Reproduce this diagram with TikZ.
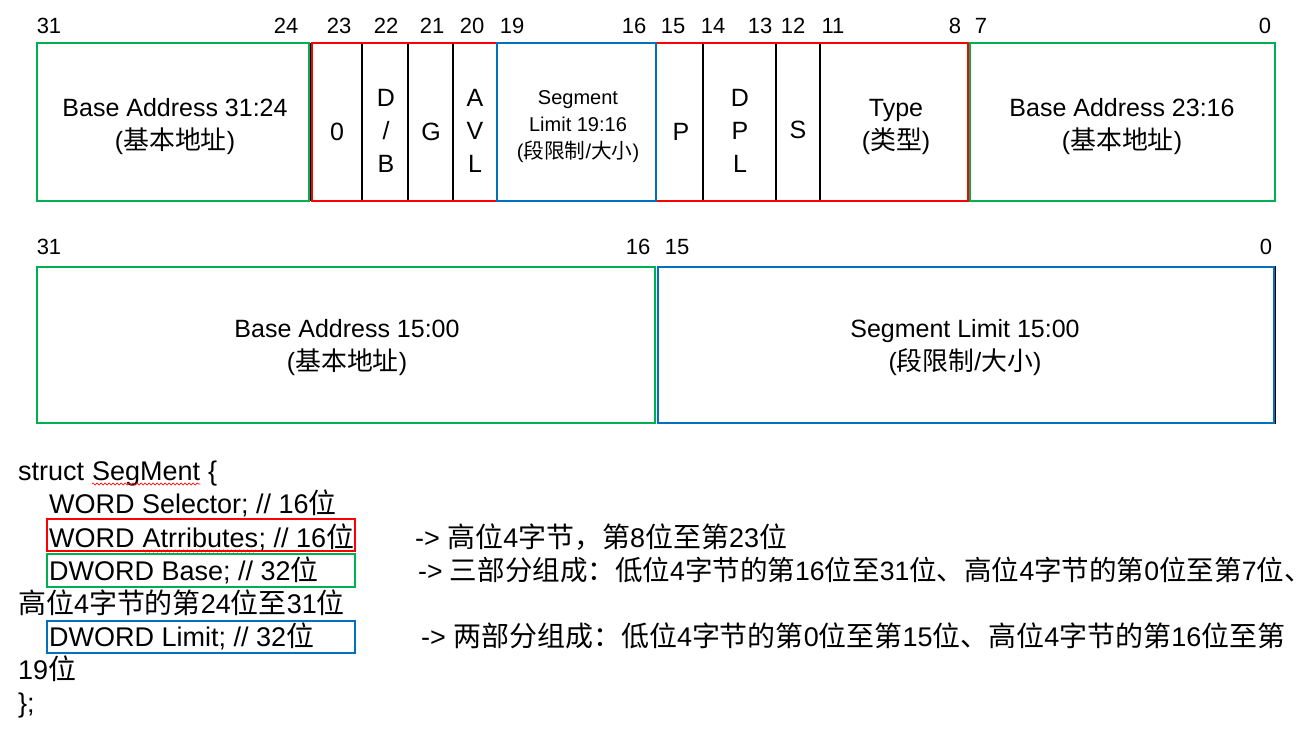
\documentclass[tikz,border=0pt]{standalone}
\usepackage{fontspec}
\setmainfont{Liberation Sans}
\newfontfamily\cjk[Scale=1.035]{Noto Sans CJK SC}
\newcommand\zh[1]{{\cjk #1}}
\usetikzlibrary{decorations.pathmorphing}
\definecolor{cgreen}{HTML}{00B050}
\definecolor{cred}{HTML}{FF0000}
\definecolor{cblue}{HTML}{0070C0}
\begin{document}
\begin{tikzpicture}[x=1pt,y=-1pt,
  greenbox/.style={draw=cgreen, line width=2pt},
  redbox/.style={draw=cred, line width=2pt},
  bluebox/.style={draw=cblue, line width=2pt},
  kline/.style={draw=black, line width=1.6pt},
  bitnum/.style={font=\fontsize{22}{26}\selectfont, anchor=base, inner sep=0pt},
  fld/.style={font=\fontsize{25}{33}\selectfont, align=center, inner sep=0pt},
  fldsmall/.style={font=\fontsize{20}{27}\selectfont, align=center, inner sep=0pt},
  code/.style={font=\fontsize{27}{33}\selectfont, anchor=base west, inner sep=0pt},
  squig/.style={draw=cred, line width=0.6pt, decorate, decoration={snake, amplitude=1.1pt, segment length=4pt}}]
\fill[white] (0,0) rectangle (1316,728);
\useasboundingbox (0,0) rectangle (1316,728);

% ---- top row: cells
\foreach \xx in {310.5,362,408,453,703,776,820,969}
  \draw[kline] (\xx,43) -- (\xx,201);
\draw[greenbox] (37,43) rectangle (309,201);
\draw[redbox] (312,43) rectangle (968,201);
\draw[bluebox] (497,43) rectangle (656,201);
\draw[greenbox] (970,43) rectangle (1275,201);

% ---- top row: bit numbers
\node[bitnum] (t31) at (49,33) {31};
\node[bitnum] (t24) at (286,33) {24};
\node[bitnum] (t23) at (339,33) {23};
\node[bitnum] (t22) at (386,33) {22};
\node[bitnum] (t21) at (432,33) {21};
\node[bitnum] (t20) at (472,33) {20};
\node[bitnum] (t19) at (512,33) {19};
\node[bitnum] (t16) at (634,33) {16};
\node[bitnum] (t15) at (673,33) {15};
\node[bitnum] (t14) at (713,33) {14};
\node[bitnum] (t13) at (760,33) {13};
\node[bitnum] (t12) at (793,33) {12};
\node[bitnum] (t11) at (833,33) {11};
\node[bitnum] (t8) at (955,33) {8};
\node[bitnum] (t7) at (981,33) {7};
\node[bitnum] (t0) at (1265,33) {0};

% ---- top row: field texts
\node[fld] (fbase3124) at (175,127) {Base Address 31:24\\(\zh{基本地址})};
\node[fld] (fzero) at (337,132) {0};
\node[fld] (fdb) at (386,131) {D\\/\\B};
\node[fld] (fg) at (431,132) {G};
\node[fld] (favl) at (475,131) {A\\V\\L};
\node[fldsmall] (fseg) at (578,127) {Segment\\Limit 19:16\\(\zh{段限制}/\zh{大小})};
\node[fld] (fp) at (681,132) {P};
\node[fld] (fdpl) at (740,131) {D\\P\\L};
\node[fld] (fs) at (798,130) {S};
\node[fld] (ftype) at (896,127) {Type\\(\zh{类型})};
\node[fld] (fbase2316) at (1122,127) {Base Address 23:16\\(\zh{基本地址})};

% ---- second row
\draw[draw=black, line width=1pt] (657,266.5) rectangle (1275.5,423.5);
\draw[greenbox] (37,267) rectangle (655,423);
\draw[bluebox] (658,267) rectangle (1274,423);
\node[bitnum] (b31) at (49,254) {31};
\node[bitnum] (b16) at (638,254) {16};
\node[bitnum] (b15) at (677,254) {15};
\node[bitnum] (b0) at (1266,254) {0};
\node[fld] (fbase1500) at (347,348) {Base Address 15:00\\(\zh{基本地址})};
\node[fld] (flim1500) at (965,348) {Segment Limit 15:00\\(\zh{段限制}/\zh{大小})};

% ---- struct listing
\draw[redbox] (47,519) rectangle (355,551);
\draw[greenbox] (47,554) rectangle (355,587);
\draw[bluebox] (47,621) rectangle (355,653);

\node[code] (c1a) at (18,480) {struct\ \null};
\node[code] (c1b) at (c1a.base east) {SegMent};
\node[code] (c1c) at (c1b.base east) {\null\ \{};
\draw[squig] ([yshift=-4pt]c1b.base west) -- ([yshift=-4pt]c1b.base east);

\node[code] (c2) at (49,513) {WORD Selector; // 16\zh{位}};

\node[code] (c3a) at (49,547) {WORD\ \null};
\node[code] (c3b) at (c3a.base east) {Atrributes};
\node[code] (c3c) at (c3b.base east) {; // 16\zh{位}};
\draw[squig] ([yshift=-4pt]c3b.base west) -- ([yshift=-4pt]c3b.base east);

\node[code] (c4) at (49,580) {DWORD Base; // 32\zh{位}};
\node[code] (c5) at (18,613) {\zh{高位}4\zh{字节的第}24\zh{位至}31\zh{位}};
\node[code] (c6) at (49,646) {DWORD Limit; // 32\zh{位}};
\node[code] (c7) at (18,679) {19\zh{位}};
\node[code] (c8) at (18,712) {\};};

\node[code] (n1) at (415,547) {-> \zh{高位}4\zh{字节，第}8\zh{位至第}23\zh{位}};
\node[code, font=\fontsize{26.6}{33}\selectfont] (n2) at (418,580) {-> \zh{三部分组成：低位}4\zh{字节的第}16\zh{位至}31\zh{位、高位}4\zh{字节的第}0\zh{位至第}7\zh{位、}};
\node[code] (n3) at (421,646) {-> \zh{两部分组成：低位}4\zh{字节的第}0\zh{位至第}15\zh{位、高位}4\zh{字节的第}16\zh{位至第}};
\end{tikzpicture}
\end{document}
